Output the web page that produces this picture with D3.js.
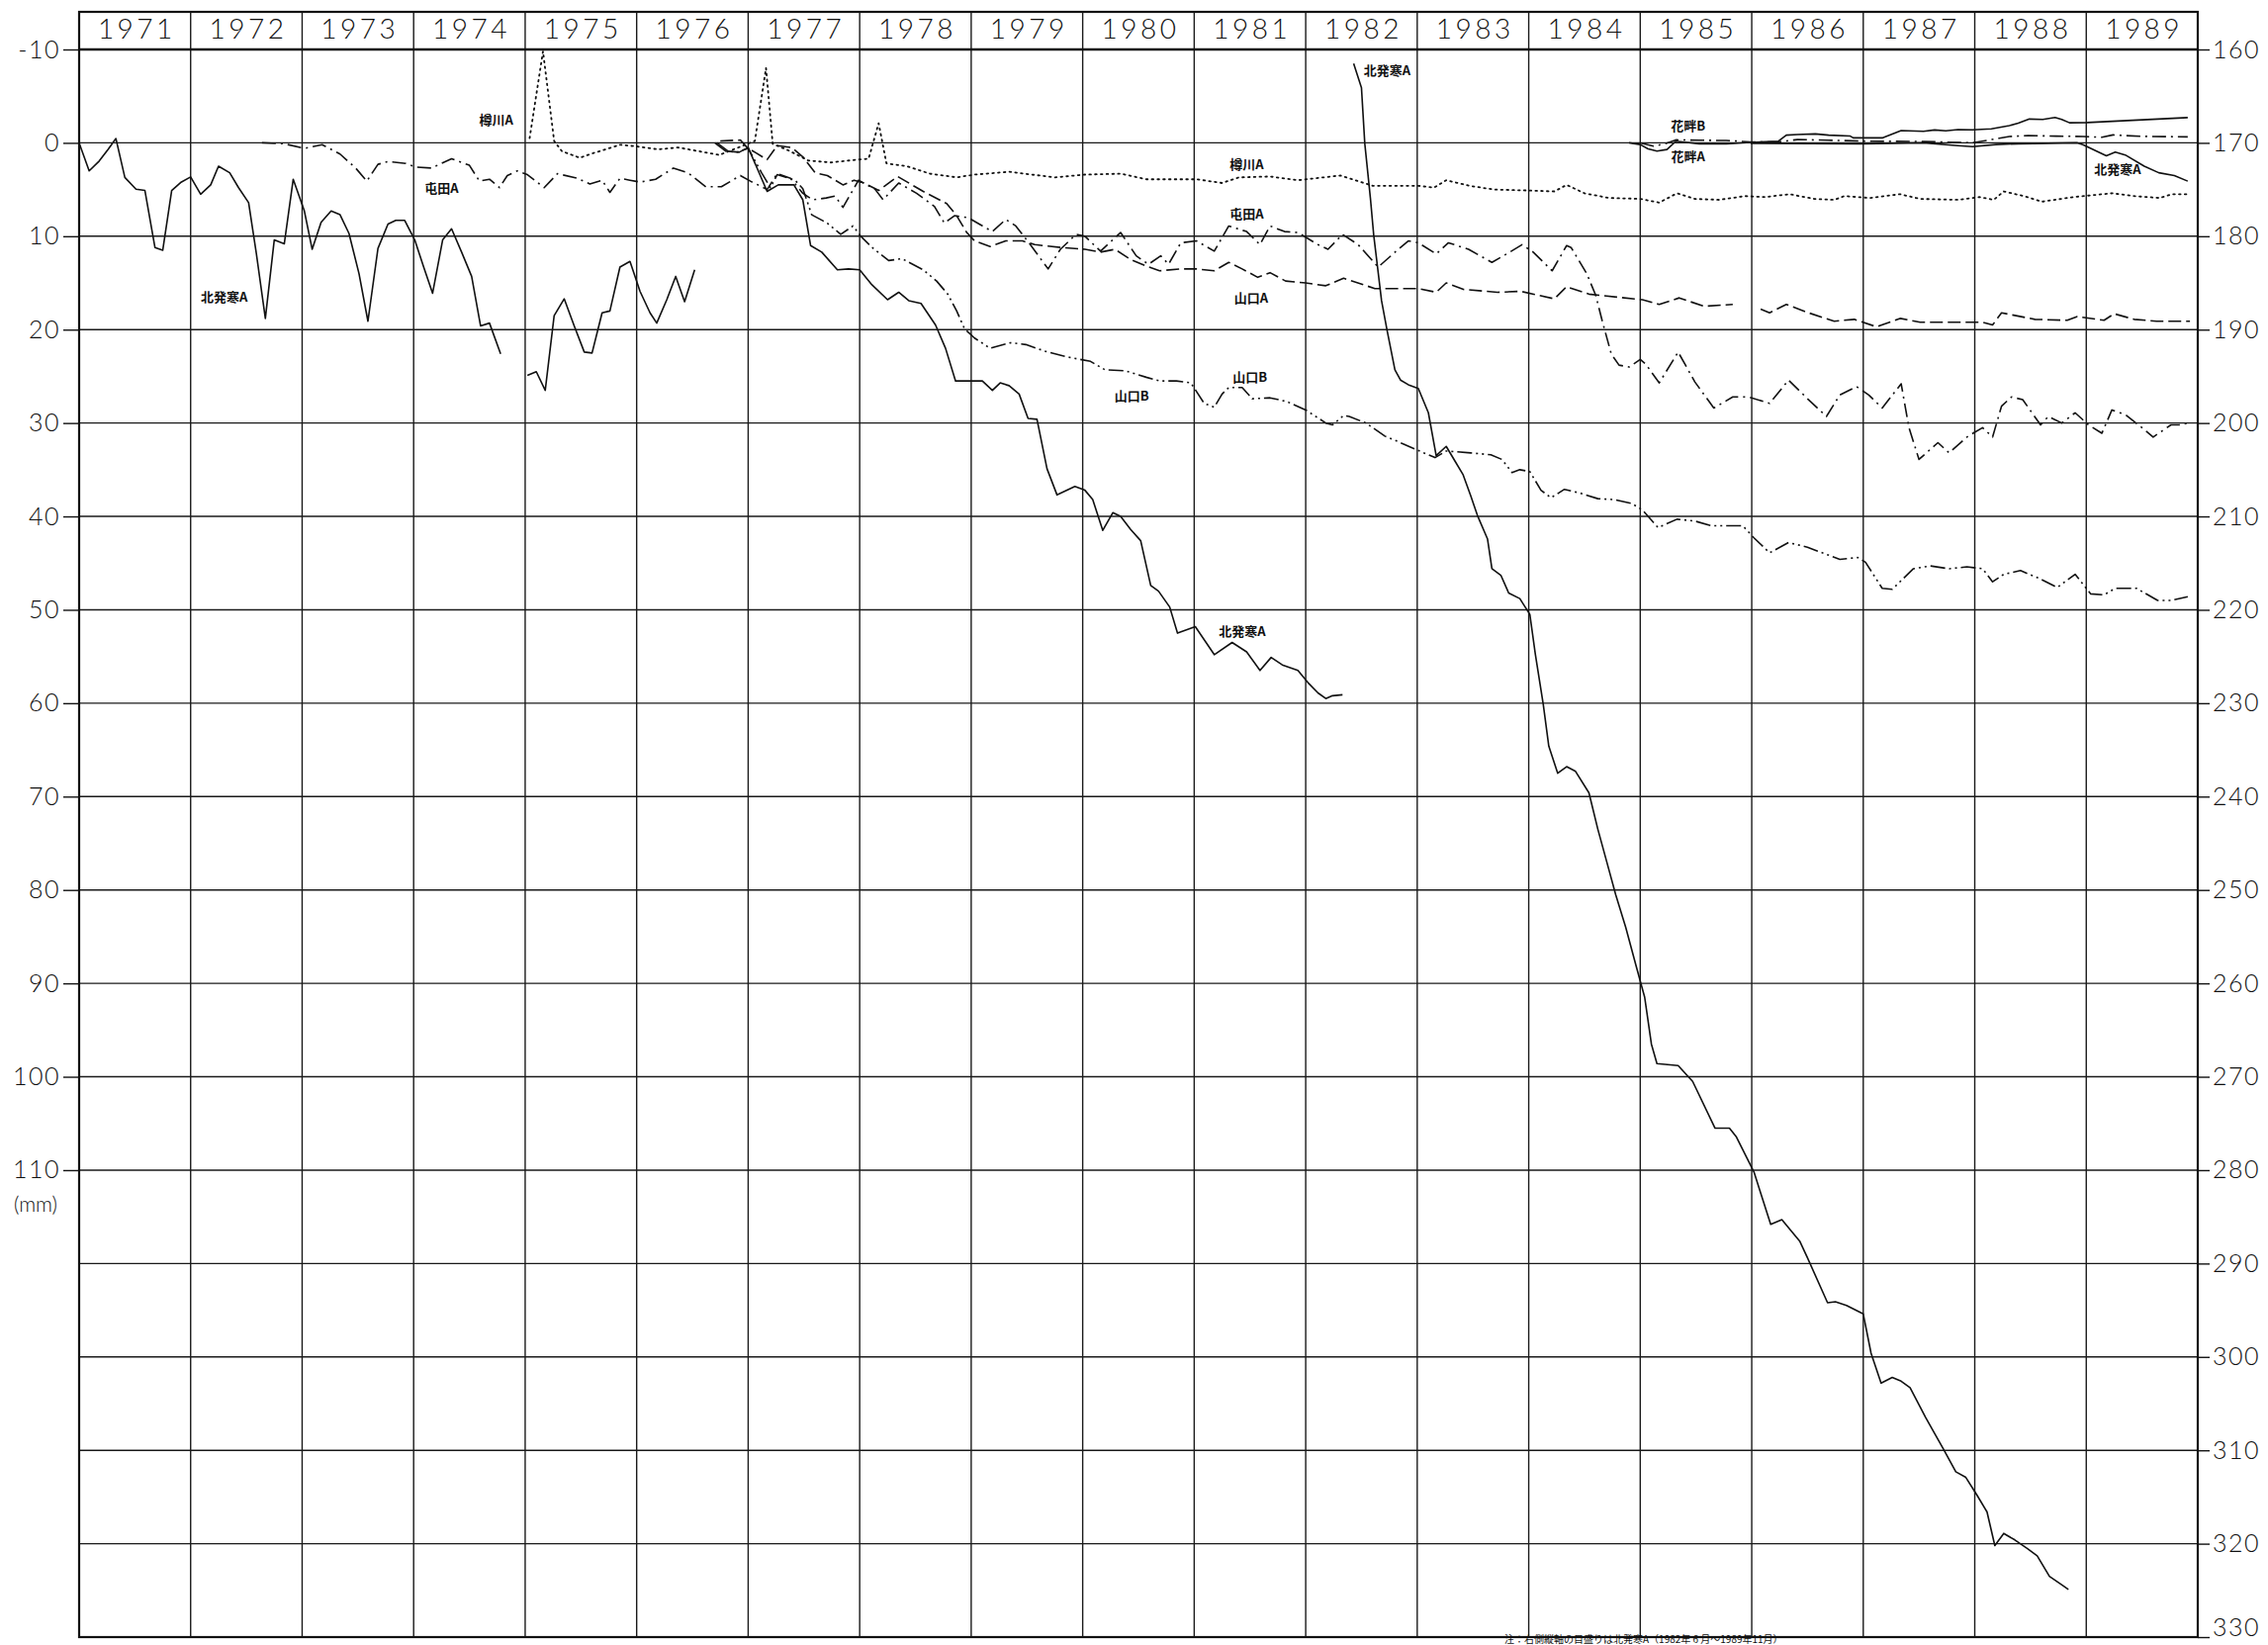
<!DOCTYPE html>
<html><head><meta charset="utf-8">
<script src="https://cdn.jsdelivr.net/npm/d3@7"></script>
<style>
body{margin:0;background:#fff;}
svg text{font-family:Lato,"Open Sans","DejaVu Sans",sans-serif;fill:#111;}
.jp{font-family:"Noto Sans CJK JP","Noto Sans",sans-serif !important;}
</style></head><body>
<svg id="c" width="2293" height="1663"></svg>
<script>
// ---------- categories / ticks ----------
const years = [1971,1972,1973,1974,1975,1976,1977,1978,1979,1980,1981,1982,1983,1984,1985,1986,1987,1988,1989];
const leftTicks = [-10,0,10,20,30,40,50,60,70,80,90,100,110];
const rightTicks = [160,170,180,190,200,210,220,230,240,250,260,270,280,290,300,310,320,330];
const gridValues = [-10,0,10,20,30,40,50,60,70,80,90,100,110,120,130,140,150,160];

// ---------- series (year, subsidence mm; left axis) ----------
const kitahassamuA_left = [
 [1971.00,0],[1971.09,3.0],[1971.18,1.95],[1971.26,0.7],[1971.33,-0.46],[1971.41,3.7],[1971.51,4.96],[1971.59,5.1],
 [1971.68,11.2],[1971.75,11.5],[1971.83,5.1],[1971.91,4.25],[1972.00,3.65],[1972.09,5.5],[1972.18,4.5],[1972.25,2.5],
 [1972.35,3.2],[1972.43,4.8],[1972.52,6.4],[1972.59,11.9],[1972.67,18.8],[1972.75,10.4],[1972.84,10.8],[1972.92,3.9],
 [1973.02,7.3],[1973.09,11.4],[1973.17,8.5],[1973.26,7.3],[1973.34,7.7],[1973.42,9.7],[1973.51,14.0],[1973.59,19.1],
 [1973.68,11.3],[1973.77,8.7],[1973.84,8.3],[1973.92,8.3],[1974.01,10.4],[1974.09,13.3],[1974.17,16.1],[1974.26,10.4],
 [1974.34,9.2],[1974.43,11.7],[1974.52,14.3],[1974.60,19.6],[1974.68,19.3],[1974.78,22.6],
 [1974.90,null],
 [1975.02,24.9],[1975.10,24.5],[1975.18,26.5],[1975.26,18.5],[1975.35,16.7],[1975.44,19.6],[1975.53,22.4],[1975.60,22.5],
 [1975.69,18.2],[1975.76,18.0],[1975.85,13.3],[1975.94,12.7],[1976.03,15.9],[1976.12,18.2],[1976.18,19.3],[1976.27,16.8],
 [1976.35,14.3],[1976.43,17.0],[1976.52,13.6],
 [1976.60,null],
 [1976.72,0.0],[1976.82,0.9],[1976.92,1.0],[1977.00,0.5],[1977.17,5.2],[1977.27,4.5],[1977.41,4.5],[1977.49,6.1],
 [1977.56,11.0],[1977.66,11.7],[1977.80,13.6],[1977.90,13.5],[1978.00,13.6],[1978.11,15.2],[1978.25,16.8],[1978.35,16.0],
 [1978.44,16.9],[1978.55,17.2],[1978.68,19.5],[1978.77,22.0],[1978.86,25.5],[1979.03,25.5],[1979.10,25.5],[1979.19,26.5],
 [1979.26,25.7],[1979.34,26.0],[1979.43,26.9],[1979.51,29.5],[1979.59,29.6],[1979.68,34.9],[1979.77,37.7],[1979.93,36.8],
 [1980.02,37.2],[1980.09,38.2],[1980.18,41.5],[1980.27,39.6],[1980.34,40.0],[1980.43,41.4],[1980.52,42.6],[1980.61,47.4],
 [1980.68,48.0],[1980.78,49.7],[1980.85,52.5],[1981.01,51.8],[1981.18,54.8],[1981.34,53.5],[1981.47,54.5],[1981.59,56.5],
 [1981.69,55.1],[1981.79,55.9],[1981.93,56.5],[1982.02,57.8],[1982.11,58.9],[1982.18,59.5],[1982.24,59.2],[1982.33,59.1]
];
// right axis (1982.6 - 1989.11)
const kitahassamuA_right = [
 [1982.43,161.5],[1982.50,164.1],[1982.53,170.1],[1982.58,175.9],[1982.61,179.9],[1982.68,186.9],[1982.73,190.1],
 [1982.80,194.3],[1982.85,195.4],[1982.92,195.9],[1983.01,196.3],[1983.10,198.9],[1983.17,203.5],[1983.26,202.5],
 [1983.33,203.9],[1983.41,205.5],[1983.48,207.8],[1983.54,209.9],[1983.63,212.4],[1983.67,215.6],[1983.75,216.3],
 [1983.82,218.2],[1983.92,218.8],[1984.01,220.5],[1984.06,224.8],[1984.13,230.1],[1984.18,234.6],[1984.26,237.5],
 [1984.34,236.8],[1984.42,237.3],[1984.54,239.6],[1984.62,243.5],[1984.70,247.0],[1984.78,250.5],[1984.87,254.0],
 [1984.96,258.0],[1985.04,261.5],[1985.10,266.5],[1985.15,268.6],[1985.34,268.8],[1985.47,270.5],[1985.67,275.5],
 [1985.80,275.5],[1985.86,276.4],[1986.02,280.2],[1986.17,285.8],[1986.27,285.3],[1986.43,287.6],[1986.50,289.4],
 [1986.68,294.2],[1986.75,294.1],[1986.85,294.5],[1987.00,295.4],[1987.07,299.6],[1987.16,302.8],[1987.26,302.2],
 [1987.34,302.6],[1987.42,303.3],[1987.56,306.5],[1987.72,309.9],[1987.83,312.3],[1987.92,312.9],[1988.02,314.8],
 [1988.11,316.6],[1988.18,320.2],[1988.26,318.9],[1988.36,319.6],[1988.47,320.5],[1988.56,321.3],[1988.67,323.5],
 [1988.78,324.4],[1988.84,324.9]
];
const tarukawaA = [
 [1975.04,-0.5],[1975.16,-9.8],[1975.26,-0.2],[1975.33,0.9],[1975.49,1.6],[1975.61,1.1],[1975.72,0.7],[1975.85,0.2],
 [1976.01,0.4],[1976.19,0.7],[1976.37,0.5],[1976.56,0.9],[1976.74,1.3],[1976.89,0.6],[1977.06,-0.2],[1977.16,-8.0],
 [1977.22,0.1],[1977.36,0.8],[1977.54,1.9],[1977.74,2.1],[1977.98,1.8],[1978.08,1.7],[1978.17,-2.1],[1978.24,2.2],
 [1978.42,2.5],[1978.63,3.3],[1978.87,3.7],[1979.03,3.4],[1979.34,3.1],[1979.75,3.7],[1980.02,3.4],[1980.34,3.3],
 [1980.57,3.9],[1981.02,3.9],[1981.25,4.3],[1981.40,3.7],[1981.68,3.6],[1981.93,4.0],[1982.31,3.5],[1982.60,4.6],
 [1983.01,4.6],[1983.15,4.8],[1983.26,4.0],[1983.47,4.6],[1983.69,5.0],[1984.00,5.1],[1984.23,5.2],[1984.34,4.5],
 [1984.50,5.4],[1984.72,5.9],[1985.00,6.0],[1985.17,6.4],[1985.33,5.4],[1985.49,6.0],[1985.71,6.1],[1985.94,5.7],
 [1986.12,5.8],[1986.34,5.5],[1986.56,6.0],[1986.74,6.1],[1986.83,5.7],[1987.06,5.9],[1987.33,5.5],[1987.51,6.0],
 [1987.86,6.1],[1988.04,5.8],[1988.17,6.1],[1988.26,5.2],[1988.44,5.7],[1988.60,6.3],[1988.89,5.8],[1989.23,5.4],
 [1989.43,5.7],[1989.66,5.9],[1989.77,5.5],[1989.93,5.5]
];
const tondenA = [
 [1972.64,0.0],[1972.84,0.1],[1973.02,0.6],[1973.18,0.2],[1973.34,1.2],[1973.48,2.7],[1973.58,4.1],[1973.68,2.3],
 [1973.77,2.0],[1973.93,2.2],[1974.02,2.6],[1974.16,2.7],[1974.34,1.7],[1974.50,2.4],[1974.59,4.1],[1974.68,3.9],
 [1974.77,4.8],[1974.84,3.5],[1974.93,3.0],[1975.02,3.4],[1975.17,4.8],[1975.29,3.3],[1975.47,3.8],[1975.58,4.4],
 [1975.69,4.0],[1975.76,5.3],[1975.85,3.8],[1975.94,4.0],[1976.03,4.2],[1976.17,3.9],[1976.33,2.7],[1976.46,3.2],
 [1976.62,4.7],[1976.76,4.7],[1976.93,3.5],[1977.02,4.1],[1977.17,5.0],[1977.26,3.3],[1977.38,3.8],[1977.49,5.4],
 [1977.58,6.1],[1977.70,5.9],[1977.78,5.7],[1977.85,6.9],[1977.99,4.0],[1978.14,5.0],[1978.21,6.1],[1978.35,4.3],
 [1978.51,5.4],[1978.67,6.8],[1978.76,8.6],[1978.85,7.8],[1978.97,8.0],[1979.19,9.5],[1979.31,8.2],[1979.40,8.9],
 [1979.53,10.9],[1979.69,13.5],[1979.80,11.4],[1979.94,9.8],[1980.02,10.0],[1980.16,11.6],[1980.34,9.6],[1980.48,12.1],
 [1980.59,13.0],[1980.70,12.1],[1980.77,13.0],[1980.88,10.7],[1981.02,10.5],[1981.18,11.6],[1981.31,8.9],[1981.47,9.5],
 [1981.59,10.9],[1981.68,8.9],[1981.81,9.5],[1981.93,9.6],[1982.11,10.9],[1982.20,11.4],[1982.33,9.8],[1982.47,10.9],
 [1982.65,13.3],[1982.83,11.4],[1982.92,10.5],[1983.01,10.7],[1983.17,11.9],[1983.28,10.7],[1983.46,11.4],[1983.67,12.8],
 [1983.83,11.7],[1983.94,10.9],[1984.04,11.7],[1984.21,13.7],[1984.34,11.0],[1984.38,11.2],[1984.52,14.0],[1984.60,16.3],
 [1984.66,19.1],[1984.74,22.6],[1984.81,23.8],[1984.90,24.0],[1985.00,23.2],[1985.05,23.7],[1985.17,25.7],[1985.34,22.4],
 [1985.49,25.6],[1985.66,28.4],[1985.83,27.2],[1985.97,27.2],[1986.16,27.9],[1986.33,25.4],[1986.50,27.4],[1986.67,29.3],
 [1986.79,27.0],[1986.94,26.1],[1987.05,27.0],[1987.17,28.4],[1987.34,25.8],[1987.41,30.5],[1987.50,33.9],[1987.67,32.1],
 [1987.77,33.2],[1987.94,31.4],[1988.07,30.5],[1988.16,31.5],[1988.24,28.2],[1988.33,27.2],[1988.43,27.5],[1988.59,30.2],
 [1988.66,29.3],[1988.78,30.0],[1988.90,28.9],[1989.02,30.2],[1989.14,31.1],[1989.23,28.6],[1989.35,29.1],[1989.50,30.5],
 [1989.60,31.5],[1989.76,30.2],[1989.83,30.2],[1989.92,30.0]
];
const yamaguchiA = [
 [1976.75,-0.2],[1976.93,-0.3],[1976.99,0.5],[1977.17,1.8],[1977.26,0.3],[1977.39,0.5],[1977.49,1.5],[1977.60,3.2],
 [1977.71,3.5],[1977.85,4.5],[1977.95,4.0],[1978.04,4.3],[1978.17,5.1],[1978.34,3.6],[1978.57,5.2],[1978.78,6.5],
 [1978.87,7.8],[1978.96,9.6],[1979.03,10.5],[1979.17,11.1],[1979.31,10.5],[1979.46,10.5],[1979.57,10.9],[1979.80,11.2],
 [1980.02,11.4],[1980.16,11.7],[1980.29,11.4],[1980.43,12.5],[1980.57,13.2],[1980.69,13.7],[1980.88,13.5],[1981.02,13.5],
 [1981.18,13.7],[1981.31,12.8],[1981.43,13.5],[1981.57,14.4],[1981.68,13.9],[1981.82,14.8],[1982.00,15.0],[1982.18,15.3],
 [1982.34,14.5],[1982.62,15.6],[1983.01,15.6],[1983.17,16.0],[1983.26,15.0],[1983.42,15.7],[1983.72,16.0],[1983.93,15.9],
 [1984.23,16.7],[1984.34,15.4],[1984.54,16.2],[1985.02,16.8],[1985.17,17.3],[1985.35,16.6],[1985.57,17.5],[1985.83,17.3],
 [1985.95,null],
 [1986.08,17.8],[1986.16,18.2],[1986.31,17.3],[1986.51,18.2],[1986.74,19.1],[1986.92,18.9],[1987.12,19.7],[1987.33,18.8],
 [1987.51,19.2],[1987.73,19.2],[1988.07,19.2],[1988.16,19.5],[1988.24,18.2],[1988.54,18.9],[1988.83,19.0],[1988.92,18.6],
 [1989.16,19.0],[1989.25,18.3],[1989.43,18.9],[1989.63,19.1],[1989.93,19.1]
];
const yamaguchiB = [
 [1976.70,0.0],[1976.80,0.9],[1976.90,1.0],[1977.00,0.6],[1977.12,3.2],[1977.20,4.8],[1977.26,3.4],[1977.42,4.0],
 [1977.49,4.9],[1977.57,7.7],[1977.71,8.6],[1977.83,9.8],[1977.94,8.9],[1978.01,10.0],[1978.11,11.2],[1978.26,12.6],
 [1978.38,12.4],[1978.57,13.6],[1978.69,14.8],[1978.79,16.2],[1978.87,18.0],[1978.94,19.9],[1979.03,20.9],[1979.17,22.0],
 [1979.35,21.4],[1979.49,21.6],[1979.66,22.3],[1979.85,22.9],[1980.07,23.4],[1980.20,24.3],[1980.38,24.4],[1980.57,25.1],
 [1980.69,25.5],[1980.84,25.5],[1980.97,25.7],[1981.09,27.9],[1981.18,28.3],[1981.25,26.9],[1981.31,26.2],[1981.43,26.2],
 [1981.52,27.4],[1981.68,27.3],[1981.83,27.7],[1982.00,28.6],[1982.18,30.0],[1982.24,30.2],[1982.34,29.2],[1982.39,29.3],
 [1982.54,30.0],[1982.71,31.4],[1982.83,32.0],[1983.04,33.1],[1983.16,33.7],[1983.26,33.0],[1983.48,33.2],[1983.66,33.4],
 [1983.76,33.9],[1983.85,35.3],[1983.92,35.0],[1984.01,35.2],[1984.11,37.2],[1984.20,38.0],[1984.32,37.1],[1984.46,37.5],
 [1984.62,38.1],[1984.77,38.2],[1984.92,38.6],[1985.02,39.3],[1985.16,41.2],[1985.33,40.3],[1985.49,40.5],[1985.64,41.0],
 [1985.92,41.0],[1986.02,42.3],[1986.16,43.9],[1986.33,42.8],[1986.50,43.3],[1986.79,44.6],[1986.95,44.4],[1987.02,44.9],
 [1987.17,47.7],[1987.26,47.8],[1987.45,45.6],[1987.60,45.3],[1987.77,45.6],[1987.93,45.4],[1988.07,45.6],[1988.16,47.0],
 [1988.26,46.2],[1988.41,45.8],[1988.59,46.7],[1988.74,47.6],[1988.90,46.2],[1989.04,48.3],[1989.16,48.4],[1989.26,47.7],
 [1989.45,47.7],[1989.64,49.0],[1989.76,49.0],[1989.91,48.6]
];
const banguroA = [
 [1984.90,0],[1985.00,0.18],[1985.07,0.64],[1985.15,0.89],[1985.24,0.71],[1985.32,-0.18],[1985.53,0.1],[1985.77,0.1],
 [1985.99,-0.04],[1986.24,-0.18],[1986.31,-0.82],[1986.41,-0.89],[1986.57,-0.96],[1986.69,-0.82],[1986.88,-0.74],
 [1986.91,-0.53],[1987.17,-0.53],[1987.34,-1.31],[1987.54,-1.24],[1987.64,-1.38],[1987.74,-1.28],[1987.85,-1.42],
 [1987.98,-1.4],[1988.15,-1.5],[1988.31,-1.85],[1988.39,-2.1],[1988.49,-2.55],[1988.61,-2.5],[1988.72,-2.72],
 [1988.78,-2.5],[1988.85,-2.15],[1989.01,-2.17],[1989.91,-2.7]
];
const banguroB = [
 [1985.00,0],[1985.12,0.35],[1985.22,0.1],[1985.32,-0.32],[1985.53,-0.28],[1985.77,-0.25],[1985.99,-0.1],[1986.24,-0.1],
 [1986.41,-0.35],[1986.69,-0.28],[1987.03,-0.18],[1987.54,-0.14],[1987.98,0],[1988.22,-0.5],[1988.31,-0.68],
 [1988.48,-0.78],[1988.73,-0.72],[1988.97,-0.68],[1989.14,-0.6],[1989.24,-0.85],[1989.48,-0.7],[1989.91,-0.64]
];
const kitahassamuA_1985 = [
 [1985.99,0.05],[1986.99,0.1],[1987.54,0.0],[1987.85,0.3],[1987.98,0.4],[1988.19,0.18],[1988.39,0.1],[1988.92,0.0],
 [1988.97,0.2],[1989.18,1.39],[1989.26,1.0],[1989.35,1.3],[1989.52,2.5],[1989.65,3.2],[1989.79,3.5],[1989.91,4.1]
];
const seriesLabels = [
 {t:"樽川A",year:1974.74,v:-2.3},
 {t:"屯田A",year:1974.25,v:5.0},
 {t:"北発寒A",year:1972.30,v:16.6},
 {t:"樽川A",year:1981.47,v:2.4},
 {t:"屯田A",year:1981.47,v:7.7},
 {t:"山口A",year:1981.51,v:16.7},
 {t:"山口B",year:1981.50,v:25.2},
 {t:"山口B",year:1980.44,v:27.2},
 {t:"北発寒A",year:1981.43,v:52.4},
 {t:"北発寒A",year:1982.73,v:-7.6},
 {t:"花畔B",year:1985.43,v:-1.7},
 {t:"花畔A",year:1985.43,v:1.6},
 {t:"北発寒A",year:1989.28,v:3.0}
];
const footnote = "注：右側縦軸の目盛りは北発寒A（1982年 6 月～1989年11月）";

// ---------- drawing ----------
const svg = d3.select("#c");
const L = 80, R = 2222, T = 50, B = 1655, HEAD = 12;
const x = d3.scaleLinear().domain([1971,1990]).range([L,R]);
const yL = d3.scaleLinear().domain([-10,160]).range([T,B]);
const yR = d3.scaleLinear().domain([160,330]).range([T,B]);

const grid = svg.append("g").attr("stroke","#1a1a1a").attr("stroke-width",1.4);
grid.selectAll("line.h").data(gridValues).join("line")
  .attr("x1",L).attr("x2",R).attr("y1",d=>yL(d)).attr("y2",d=>yL(d));
grid.selectAll("line.v").data(years.concat([1990])).join("line")
  .attr("x1",d=>x(d)).attr("x2",d=>x(d)).attr("y1",HEAD).attr("y2",B);
// header and frame
svg.append("rect").attr("x",L).attr("y",HEAD).attr("width",R-L).attr("height",B-HEAD)
  .attr("fill","none").attr("stroke","#111").attr("stroke-width",2.2);
svg.append("line").attr("x1",L).attr("x2",R).attr("y1",T).attr("y2",T).attr("stroke","#111").attr("stroke-width",2.4);

svg.append("g").selectAll("text").data(years).join("text")
  .attr("x",d=>x(d+0.5)+2).attr("y",(HEAD+T)/2+1).attr("text-anchor","middle").attr("dominant-baseline","middle")
  .attr("font-size",28).attr("font-weight",300).attr("letter-spacing",3.5).text(d=>d);

// axes
const axL = svg.append("g").attr("transform",`translate(${L},0)`)
  .call(d3.axisLeft(yL).tickValues(leftTicks).tickSize(16).tickPadding(3).tickFormat(d=>String(d)));
const axR = svg.append("g").attr("transform",`translate(${R},0)`)
  .call(d3.axisRight(yR).tickValues(rightTicks).tickSize(12).tickPadding(3).tickFormat(d=>String(d)));
[axL,axR].forEach(a=>{
  a.select(".domain").remove();
  a.selectAll(".tick line").attr("stroke","#111").attr("stroke-width",1.4);
  a.selectAll(".tick text").attr("font-size",25).attr("font-weight",300).attr("fill","#111")
   .attr("letter-spacing",1.5).style("font-family","Lato,'Open Sans',sans-serif");
});
axR.selectAll(".tick text").filter(d=>d===330).attr("dy","-0.05em");
svg.append("text").attr("x",36).attr("y",yL(110)+42).attr("text-anchor","middle").attr("font-size",21).attr("font-weight",300).text("(mm)");

// lines
const lineL = d3.line().defined(d=>d[1]!=null).x(d=>x(d[0])).y(d=>yL(d[1]));
const lineR = d3.line().defined(d=>d[1]!=null).x(d=>x(d[0])).y(d=>yR(d[1]));
const g = svg.append("g").attr("fill","none").attr("stroke","#111").attr("stroke-width",1.5).attr("stroke-linejoin","round");
const draw = (data, gen, dash, w) => g.append("path").datum(data).attr("d",gen)
  .attr("stroke-dasharray",dash).attr("stroke-width",w||1.5);
draw(kitahassamuA_left, lineL, null, 1.6);
draw(kitahassamuA_right, lineR, null, 1.6);
draw(tarukawaA, lineL, "1.6,4.2", 1.8).attr("stroke-linecap","round");
draw(tondenA, lineL, "14,5,2,5", 1.6);
draw(yamaguchiA, lineL, "13,5", 1.6);
draw(yamaguchiB, lineL, "15,4,2,4,2,4", 1.6);
draw(banguroA, lineL, null, 1.6);
draw(banguroB, lineL, "14,5,2,5", 1.6);
draw(kitahassamuA_1985, lineL, null, 1.6);

// series labels
svg.append("g").selectAll("text").data(seriesLabels).join("text")
  .attr("class","jp").attr("x",d=>x(d.year)).attr("y",d=>yL(d.v)).attr("text-anchor","middle")
  .attr("dominant-baseline","middle").attr("font-size",13).attr("font-weight",700).text(d=>d.t);

svg.append("text").attr("class","jp").attr("x",1521).attr("y",1661).attr("font-size",10).text(footnote);
</script>
</body></html>
